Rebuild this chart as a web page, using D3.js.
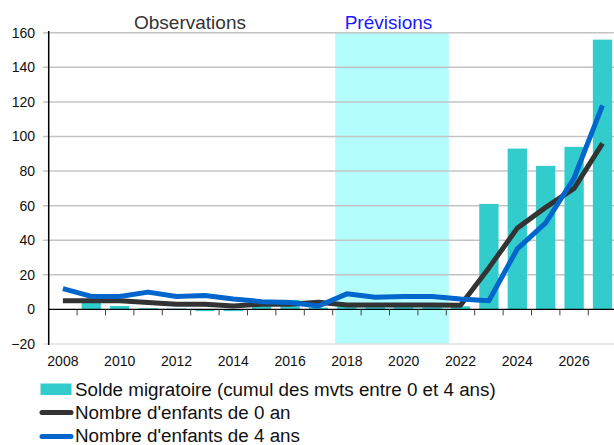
<!DOCTYPE html>
<html>
<head>
<meta charset="utf-8">
<script src="https://cdn.jsdelivr.net/npm/d3@7"></script>
<style>
  body { margin: 0; background: #fff; }
  text { font-family: "Liberation Sans", Arial, sans-serif; }
</style>
</head>
<body>
<script>
// years on the x axis
var years = ["2008","2009","2010","2011","2012","2013","2014","2015","2016","2017",
             "2018","2019","2020","2021","2022","2023","2024","2025","2026","2027"];
// Solde migratoire (cumul des mvts entre 0 et 4 ans)
var solde = [0, 4, 2, 0.7, 0.5, -1, -1, 2, 5.5, 1, 1.7, 1.7, 1.7, 1.7, 1.8, 61, 93, 83, 94, 156];
// Nombre d'enfants de 0 an
var enfants0 = [5, 5, 5, 4, 3, 3, 2, 3, 3, 4.2, 2.5, 2.5, 2.5, 2.5, 2.4, 24, 47, 59, 70, 96];
// Nombre d'enfants de 4 ans
var enfants4 = [12, 7.5, 7.5, 10, 7.5, 8, 6, 4.5, 4, 2, 9, 7, 7.5, 7.5, 6, 5, 35, 50, 76, 118];
var yTicks = [-20, 0, 20, 40, 60, 80, 100, 120, 140, 160];
var xLabels = ["2008","2010","2012","2014","2016","2018","2020","2022","2024","2026"];
var forecastYears = ["2018", "2021"];
var legendItems = ["Solde migratoire (cumul des mvts entre 0 et 4 ans)",
                   "Nombre d'enfants de 0 an",
                   "Nombre d'enfants de 4 ans"];

var width = 614, height = 445;
var cBar = "#33cccc", cBlack = "#333333", cBlue = "#0066cc", cShade = "#b4fdfd";

var svg = d3.select("body").append("svg")
    .attr("width", width)
    .attr("height", height);

var x = d3.scaleBand()
    .domain(years)
    .range([48.7, 616.7])
    .paddingInner(0.32)
    .paddingOuter(0.16);

var y = d3.scaleLinear()
    .domain([-20, 160])
    .range([344, 32.7]);

var step = x.step();
function bandStart(d) { return x(d) - x.paddingInner() * step / 2; }

// forecast shading
svg.append("rect")
    .attr("x", bandStart(forecastYears[0]) + 2.5)
    .attr("y", y(160))
    .attr("width", bandStart(forecastYears[1]) + step - bandStart(forecastYears[0]))
    .attr("height", y(-20) - y(160))
    .attr("fill", cShade);

// gridlines
svg.append("g").selectAll("line")
    .data(yTicks.filter(function(d) { return d !== 0; }))
    .enter().append("line")
    .attr("x1", 43).attr("x2", width)
    .attr("y1", function(d) { return y(d); })
    .attr("y2", function(d) { return y(d); })
    .attr("stroke", function(d) { return d === -20 ? "#e2e2e2" : "#c4c4c4"; })
    .attr("stroke-width", 1.5);

// y labels
var yAxis = d3.axisLeft(y).tickValues(yTicks).tickSize(0).tickPadding(0);
var gy = svg.append("g").attr("transform", "translate(35,0)").call(yAxis);
gy.select(".domain").remove();
gy.selectAll("text").attr("font-size", 14).attr("fill", "#111")
    .attr("font-family", "Liberation Sans, Arial, sans-serif");

// bars
svg.append("g").selectAll("rect")
    .data(solde)
    .enter().append("rect")
    .attr("x", function(d, i) { return x(years[i]); })
    .attr("width", x.bandwidth())
    .attr("y", function(d) { return y(Math.max(0, d)); })
    .attr("height", function(d) { return Math.abs(y(d) - y(0)); })
    .attr("fill", cBar);

// zero line + ticks at band boundaries
svg.append("line")
    .attr("x1", 48).attr("x2", width)
    .attr("y1", y(0)).attr("y2", y(0))
    .attr("stroke", "#000").attr("stroke-width", 1.2);
svg.append("g").selectAll("line")
    .data(years.slice(1))
    .enter().append("line")
    .attr("x1", function(d) { return bandStart(d); })
    .attr("x2", function(d) { return bandStart(d); })
    .attr("y1", y(0)).attr("y2", y(0) + 6)
    .attr("stroke", "#444").attr("stroke-width", 1);

// x labels
var xAxis = d3.axisBottom(x).tickValues(xLabels).tickSize(0).tickPadding(0);
var gx = svg.append("g").attr("transform", "translate(0,356)").call(xAxis);
gx.select(".domain").remove();
gx.selectAll("text").attr("font-size", 14).attr("fill", "#111")
    .attr("font-family", "Liberation Sans, Arial, sans-serif");

// y axis line
svg.append("line")
    .attr("x1", 48.7).attr("x2", 48.7)
    .attr("y1", 31).attr("y2", 345)
    .attr("stroke", "#000").attr("stroke-width", 1.5);

// lines
var line = d3.line()
    .x(function(d, i) { return x(years[i]) + x.bandwidth() / 2; })
    .y(function(d) { return y(d); });

svg.append("path")
    .attr("d", line(enfants0))
    .attr("fill", "none")
    .attr("stroke", cBlack)
    .attr("stroke-width", 5)
    .attr("stroke-linejoin", "round");

svg.append("path")
    .attr("d", line(enfants4))
    .attr("fill", "none")
    .attr("stroke", cBlue)
    .attr("stroke-width", 5)
    .attr("stroke-linejoin", "round");

// titles
svg.append("text")
    .attr("x", 190).attr("y", 29)
    .attr("text-anchor", "middle")
    .attr("font-size", 19).attr("fill", "#333")
    .text("Observations");
svg.append("text")
    .attr("x", 388.5).attr("y", 29)
    .attr("text-anchor", "middle")
    .attr("font-size", 19).attr("fill", "#1a1aff")
    .text("Prévisions");

// legend
var legend = svg.append("g");
legend.append("rect")
    .attr("x", 40.5).attr("y", 383.5)
    .attr("width", 31).attr("height", 11.5)
    .attr("fill", cBar);
legend.append("line")
    .attr("x1", 42).attr("x2", 71)
    .attr("y1", 412.5).attr("y2", 412.5)
    .attr("stroke", cBlack).attr("stroke-width", 5).attr("stroke-linecap", "round");
legend.append("line")
    .attr("x1", 42).attr("x2", 71)
    .attr("y1", 436.5).attr("y2", 436.5)
    .attr("stroke", cBlue).attr("stroke-width", 5).attr("stroke-linecap", "round");
legend.selectAll("text.leg")
    .data(legendItems)
    .enter().append("text")
    .attr("class", "leg")
    .attr("x", 75)
    .attr("y", function(d, i) { return 396 + i * 23; })
    .attr("font-size", 18.8)
    .attr("fill", "#111")
    .text(function(d) { return d; });
</script>
</body>
</html>
